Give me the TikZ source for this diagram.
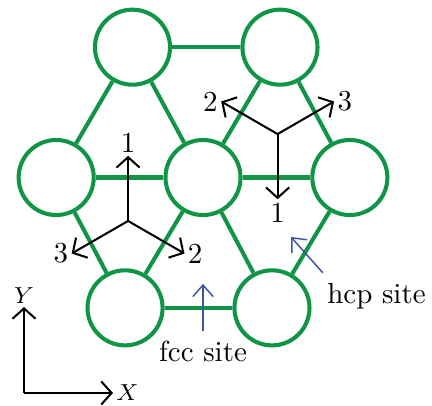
\documentclass[tikz,border=0pt]{standalone}
\usetikzlibrary{arrows.meta,calc}
\definecolor{atomgreen}{RGB}{16,148,70}
\definecolor{siteblue}{RGB}{58,83,164}

\begin{document}
\begin{tikzpicture}[
  atom/.style = {circle, draw=atomgreen, line width=1.4pt, minimum size=0.91cm, inner sep=0pt},
  bond/.style = {atomgreen, line width=1.4pt},
  vec/.style = {-{Straight Barb[length=3.6pt, width=8pt]}, line width=0.7pt},
  sitearrow/.style = {-{Straight Barb[length=4pt, width=7pt]}, siteblue, line width=0.5pt},
  lbl/.style = {inner sep=1pt}
]
  \useasboundingbox (-2.461,-2.758) rectangle (2.776,2.152);
  \node[atom] (tl) at (-0.855, 1.58) {};
  \node[atom] (tr) at ( 0.933, 1.58) {};
  \node[atom] (ml) at (-1.78, 0) {};
  \node[atom] (mc) at ( 0, 0) {};
  \node[atom] (mr) at ( 1.78, 0) {};
  \node[atom] (bl) at (-0.945,-1.58) {};
  \node[atom] (br) at ( 0.836,-1.58) {};
  \foreach \a/\b in {tl/tr, tl/ml, tl/mc, tr/mc, tr/mr, ml/mc, mc/mr,
                     ml/bl, mc/bl, mc/br, mr/br, bl/br}
    \draw[bond] (\a) -- (\b);

  \coordinate (siteA) at (barycentric cs:ml=1,mc=1,bl=1);
  \foreach \ang/\num/\pos in {90/1/above, 210/3/left, 330/2/right} {
    \coordinate (siteA\num) at ($(siteA)+(\ang:0.79)$);
    \draw[vec] (siteA) -- (siteA\num);
    \node[\pos, lbl] (siteAlbl\num) at (siteA\num) {\num};
  }
  \coordinate (siteB) at (barycentric cs:tr=1,mc=1,mr=1);
  \foreach \ang/\num/\pos in {270/1/below, 150/2/left, 30/3/right} {
    \coordinate (siteB\num) at ($(siteB)+(\ang:0.79)$);
    \draw[vec] (siteB) -- (siteB\num);
    \node[\pos, lbl] (siteBlbl\num) at (siteB\num) {\num};
  }

  \coordinate (fcctip) at (0,-1.29);
  \node (fcclbl) at (0,-2.109) {fcc site};
  \draw[sitearrow] (fcclbl) -- (fcctip);
  \coordinate (hcptip) at (1.067,-0.721);
  \node (hcplbl) at (2.103,-1.436) {hcp site};
  \draw[sitearrow] ([xshift=2pt]hcplbl.north west) -- (hcptip);

  \coordinate (orig) at (-2.17,-2.612);
  \coordinate (xtip) at (-1.091,-2.612);
  \coordinate (ytip) at (-2.17,-1.57);
  \draw[vec] (orig) -- (xtip);
  \draw[vec] (orig) -- (ytip);
  \node[right, lbl] (xlbl) at (xtip) {\footnotesize $X$};
  \node[above, lbl] (ylbl) at (ytip) {\footnotesize $Y$};
\end{tikzpicture}
\end{document}
